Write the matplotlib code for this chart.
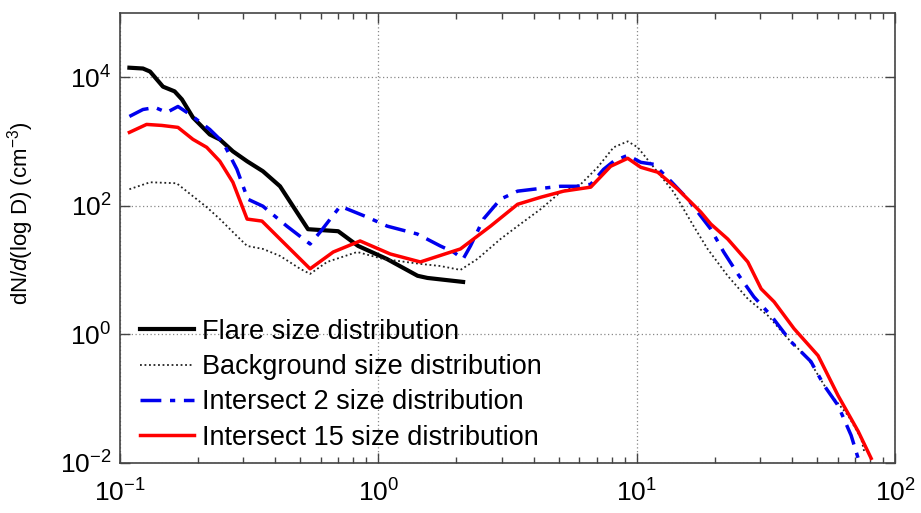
import numpy as np
import matplotlib
matplotlib.use("Agg")
import matplotlib.pyplot as plt
from matplotlib.ticker import LogLocator, LogFormatterSciNotation, NullFormatter

plt.rcParams['font.family'] = ['Liberation Sans', 'DejaVu Sans']
plt.rcParams['mathtext.fontset'] = 'custom'
plt.rcParams['mathtext.rm'] = 'Liberation Sans'
plt.rcParams['mathtext.it'] = 'Liberation Sans:italic'

# particle diameter D (um) and dN/dlogD (cm^-3) for each distribution
flare_d = [0.109, 0.123, 0.131, 0.147, 0.163, 0.174, 0.192, 0.223, 0.244, 0.274,
           0.311, 0.358, 0.417, 0.468, 0.535, 0.70, 0.836, 1.08, 1.42, 1.55, 2.13]
flare_n = [14000, 13600, 12200, 7100, 6000, 4500, 2350, 1280, 1070, 700,
           490, 343, 200, 98, 43, 40, 23.6, 14.8, 8.1, 7.5, 6.5]

bg_d = [0.109, 0.131, 0.166, 0.192, 0.217, 0.244, 0.274, 0.311, 0.358, 0.417,
        0.499, 0.545, 0.634, 0.829, 1.045, 1.455, 1.738, 2.08, 2.42, 2.97,
        3.46, 4.25, 5.07, 6.07, 7.06, 8.14, 9.23, 10.09, 11.64, 13.9,
        16.6, 18.8, 22.5, 26.9, 32.2, 38.5, 46.0, 55.0, 65.7, 73.8, 75.8]
bg_n = [180, 231, 223, 140, 94.8, 61.8, 38.8, 23.6, 21.2, 16.5,
        10.4, 8.67, 13.3, 19.0, 14.8, 12.4, 11.5, 10.0, 14.8, 30.2,
        48, 88.3, 162, 215, 395, 808, 1000, 808, 395, 162,
        48, 21.2, 8.07, 3.55, 1.94, 0.851, 0.417, 0.128, 0.0545, 0.024, 0.0151]

int2_d = [0.109, 0.123, 0.137, 0.152, 0.168, 0.187, 0.223, 0.251, 0.284, 0.313,
          0.358, 0.443, 0.545, 0.596, 0.713, 0.906, 1.083, 1.416, 1.738, 1.953,
          2.13, 2.274, 2.553, 2.97, 3.46, 3.99, 5.07, 5.91, 6.64, 7.45,
          8.14, 9.23, 10.37, 11.64, 13.55, 15.77, 17.7, 19.36, 21.7, 24.6,
          28.4, 33.1, 39.5, 47.2, 53.1, 60.1, 67.5, 71.9]
int2_n = [2443, 3133, 3366, 2818, 3490, 2623, 1535, 964, 368, 126,
          98, 48, 25.3, 38.8, 98, 66.4, 48, 36.2, 23.6, 19.0,
          14.8, 23.6, 61.8, 126, 168, 180, 200, 200, 215, 368,
          490, 607, 472, 440, 240, 126, 68.8, 43, 19.0, 8.67,
          3.81, 1.94, 0.766, 0.375, 0.159, 0.0778, 0.0267, 0.0117]

int15_d = [0.109, 0.127, 0.1455, 0.168, 0.192, 0.217, 0.244, 0.274, 0.311, 0.355,
           0.417, 0.545, 0.670, 0.851, 1.113, 1.455, 2.08, 2.72, 3.46, 4.25,
           5.21, 6.64, 7.93, 9.23, 10.37, 12.06, 14.42, 17.7, 19.36, 22.5,
           26.9, 30.3, 34.0, 40.6, 50.3, 60.1, 71.9, 80.7]
int15_n = [1380, 1835, 1770, 1650, 1074, 808, 490, 231, 61.8, 57.5,
           30.2, 10.4, 19.0, 28.2, 17.7, 13.3, 21.2, 48, 105, 135,
           168, 194, 410, 545, 395, 331, 180, 79.3, 51.6, 30.2,
           13.3, 5.07, 3.19, 1.22, 0.464, 0.111, 0.0308, 0.0117]

labels = ['Flare size distribution', 'Background size distribution',
          'Intersect 2 size distribution', 'Intersect 15 size distribution']

fig = plt.figure(figsize=(9.21, 5.13), dpi=100)
ax = fig.add_axes([0.130, 0.098, 0.842, 0.877])

ax.plot(flare_d, flare_n, color='black', lw=3, label=labels[0])
ax.plot(bg_d, bg_n, color='#222222', lw=1.3, ls=(0, (1, 1.5)), label=labels[1])
ax.plot(int2_d, int2_n, color='#0000ee', lw=2.5, ls=(0, (6, 2.5, 1.5, 2.5)), label=labels[2])
ax.plot(int15_d, int15_n, color='#ff0000', lw=2.5, label=labels[3])

ax.set_xscale('log')
ax.set_yscale('log')
ax.set_xlim(0.1, 100)
ax.set_ylim(1e-2, 1e5)

ax.xaxis.set_major_locator(LogLocator(base=10, numticks=10))
ax.xaxis.set_minor_locator(LogLocator(base=10, subs=np.arange(2, 10), numticks=20))
ax.xaxis.set_minor_formatter(NullFormatter())
ax.set_yticks([1e-2, 1, 1e2, 1e4])
ax.yaxis.set_minor_locator(matplotlib.ticker.NullLocator())
ax.xaxis.set_major_formatter(LogFormatterSciNotation())
ax.yaxis.set_major_formatter(LogFormatterSciNotation())

ax.tick_params(which='both', direction='in', top=True, right=True,
               labelsize=19, color='#444444')
ax.tick_params(which='major', length=7, width=1)
ax.tick_params(which='minor', length=4, width=1)
ax.tick_params(axis='x', pad=12)
ax.tick_params(axis='y', pad=6)

ax.grid(True, which='major', ls=(0, (1, 2)), color='#888888', lw=0.9)
for s in ax.spines.values():
    s.set_color('#444444')
    s.set_linewidth(1.2)

fig.text(0.022, 0.585, 'dN/$\\mathit{d}$(log D) (cm$^{-3}$)', fontsize=16,
         rotation=90, ha='center', va='center')

ax.legend(loc='lower left', bbox_to_anchor=(0.01, 0.0), frameon=False,
          fontsize=19.5, handlelength=2.0, handletextpad=0.3,
          labelspacing=0.34, borderaxespad=0.05)

fig.savefig('out.png', dpi=100)
